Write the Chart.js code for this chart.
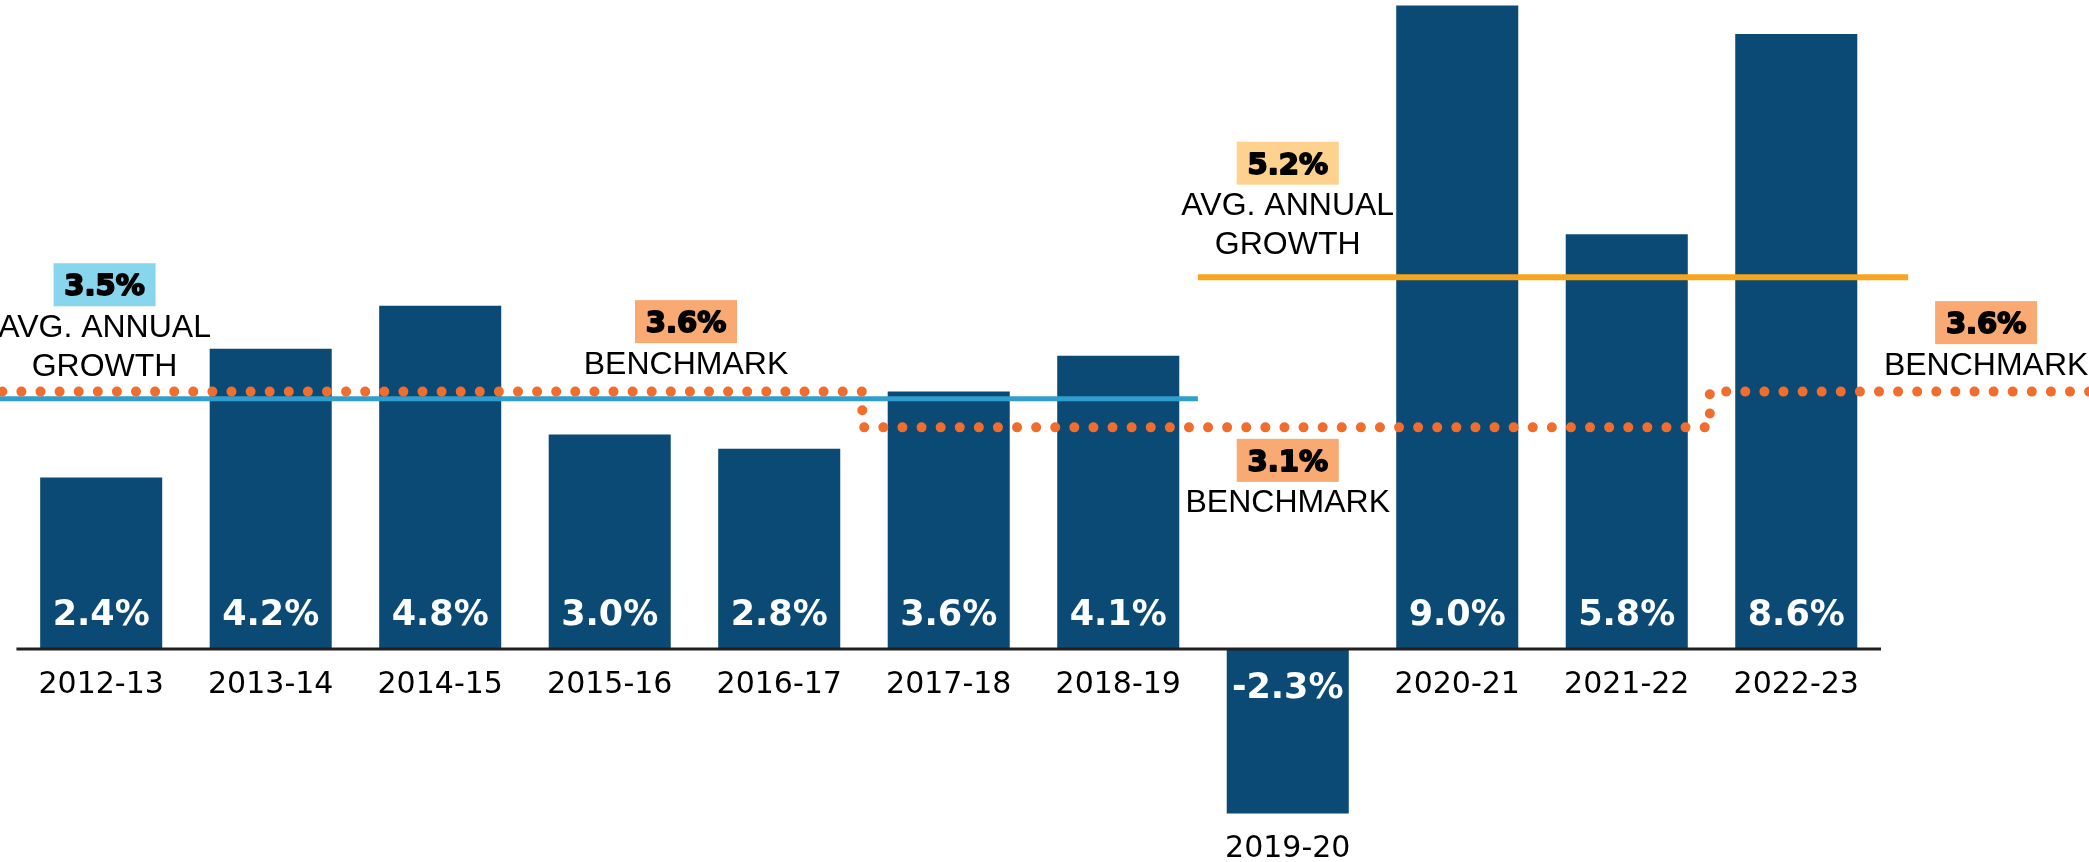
<!DOCTYPE html>
<html>
<head>
<meta charset="utf-8">
<script src="https://cdn.jsdelivr.net/npm/chart.js@4"></script>
<style>
html,body{margin:0;padding:0;background:#fff;}
canvas{display:block;}
</style>
</head>
<body>
<canvas id="mycanvas" width="2089" height="862"></canvas>
<script>
// data
var years = ['2012-13','2013-14','2014-15','2015-16','2016-17','2017-18','2018-19','2019-20','2020-21','2021-22','2022-23'];
var growth = [2.4, 4.2, 4.8, 3.0, 2.8, 3.6, 4.1, -2.3, 9.0, 5.8, 8.6];
var avgGrowth = [3.5, 5.2];          // 2012-13..2018-19, 2019-20..2022-23
var avgLabel = ['AVG. ANNUAL', 'GROWTH'];
var benchmark = [3.6, 3.1, 3.6];
var benchmarkLabel = ['BENCHMARK'];

var barColor = '#0b4a74';
var dotColor = '#f26c2c';

// line extents on the index axis (layout, not data)
var avgSpans = [[-0.6, 6.47], [6.47, 10.66]];
var benchSteps = [-0.6, 4.49, 9.49, 11.8];

var avgLine1 = avgSpans[0].map(function(x){ return {x: x, y: avgGrowth[0]}; });
var avgLine2 = avgSpans[1].map(function(x){ return {x: x, y: avgGrowth[1]}; });
var benchLine = [];
for (var k = 0; k < benchmark.length; k++) {
	benchLine.push({x: benchSteps[k], y: benchmark[k]});
	benchLine.push({x: benchSteps[k+1], y: benchmark[k]});
}

var callouts = [
	{value: avgGrowth[0], lines: avgLabel, x: 0.02, dy: -114, fill: '#88d5ee'},
	{value: benchmark[0], lines: benchmarkLabel, x: 3.45, dy: -70, fill: '#f9aa72'},
	{value: avgGrowth[1], lines: avgLabel, x: 7.0, dy: -114, fill: '#fdd28f'},
	{value: benchmark[1], lines: benchmarkLabel, x: 7.0, dy: 33, fill: '#f9aa72'},
	{value: benchmark[2], lines: benchmarkLabel, x: 11.12, dy: -69, fill: '#f9aa72'}
];

var labelPlugin = {
	id: 'labels',
	afterDatasetsDraw: function(chart) {
		var ctx = chart.ctx;
		var xs = chart.scales.x, ys = chart.scales.y;
		var y0 = ys.getPixelForValue(0);
		ctx.save();
		ctx.textAlign = 'center';
		ctx.textBaseline = 'alphabetic';

		// values inside bars
		ctx.fillStyle = '#fff';
		ctx.font = 'bold 35px "DejaVu Sans"';
		growth.forEach(function(v, i) {
			var ty = v >= 0 ? y0 - 24 : y0 + 49;
			ctx.fillText(v.toFixed(1) + '%', xs.getPixelForValue(i), ty);
		});

		// year labels
		ctx.fillStyle = '#000';
		ctx.font = '30px "DejaVu Sans"';
		years.forEach(function(y, i) {
			var bottom = Math.max(y0, ys.getPixelForValue(Math.min(growth[i], 0)));
			ctx.fillText(y, xs.getPixelForValue(i), bottom + 44);
		});

		// callouts
		callouts.forEach(function(c) {
			var cx = xs.getPixelForValue(c.x);
			var cy = ys.getPixelForValue(c.value) + c.dy;
			ctx.fillStyle = c.fill;
			ctx.fillRect(cx - 51, cy - 21.5, 102, 43);
			ctx.fillStyle = '#000';
			ctx.strokeStyle = '#000';
			ctx.lineWidth = 1.8;
			ctx.lineJoin = 'round';
			ctx.font = 'bold 29px "DejaVu Sans"';
			var t = c.value.toFixed(1) + '%';
			ctx.fillText(t, cx, cy + 10.5);
			ctx.strokeText(t, cx, cy + 10.5);
			ctx.font = '32px "Liberation Sans"';
			c.lines.forEach(function(line, j) {
				ctx.fillText(line, cx, cy + 52 + j * 39);
			});
		});
		ctx.restore();
	}
};

var ctx = document.getElementById('mycanvas');
var chart = new Chart(ctx, {
	type: 'bar',
	data: {
		datasets: [
			{
				type: 'bar',
				data: growth.map(function(v, i){ return {x: i, y: v}; }),
				backgroundColor: barColor,
				borderWidth: 0,
				barPercentage: 0.72,
				categoryPercentage: 1,
				order: 3
			},
			{
				type: 'line',
				data: [{x: -0.5, y: 0}, {x: 10.5, y: 0}],
				borderColor: '#231f20',
				borderWidth: 3,
				pointRadius: 0,
				fill: false,
				order: 2
			},
			{
				type: 'line',
				data: benchLine,
				borderColor: dotColor,
				borderWidth: 10,
				borderDash: [0, 19.1],
				borderDashOffset: 16.3,
				borderCapStyle: 'round',
				borderJoinStyle: 'round',
				pointRadius: 0,
				fill: false,
				order: 1
			},
			{
				type: 'line',
				data: avgLine1,
				borderColor: '#319fcd',
				borderWidth: 5,
				pointRadius: 0,
				fill: false,
				order: 1
			},
			{
				type: 'line',
				data: avgLine2,
				borderColor: '#f8a51e',
				borderWidth: 6,
				pointRadius: 0,
				fill: false,
				order: 1
			}
		]
	},
	options: {
		responsive: false,
		devicePixelRatio: 1,
		animation: false,
		events: [],
		layout: { padding: 0 },
		plugins: {
			legend: { display: false },
			tooltip: { enabled: false }
		},
		scales: {
			x: {
				type: 'linear',
				display: false,
				offset: false,
				min: -0.597,
				max: 11.727,
				afterBuildTicks: function(axis) {
					axis.ticks = years.map(function(y, i){ return {value: i}; });
				}
			},
			y: {
				type: 'linear',
				display: false,
				min: -2.979,
				max: 9.077
			}
		}
	},
	plugins: [labelPlugin]
});
</script>
</body>
</html>
